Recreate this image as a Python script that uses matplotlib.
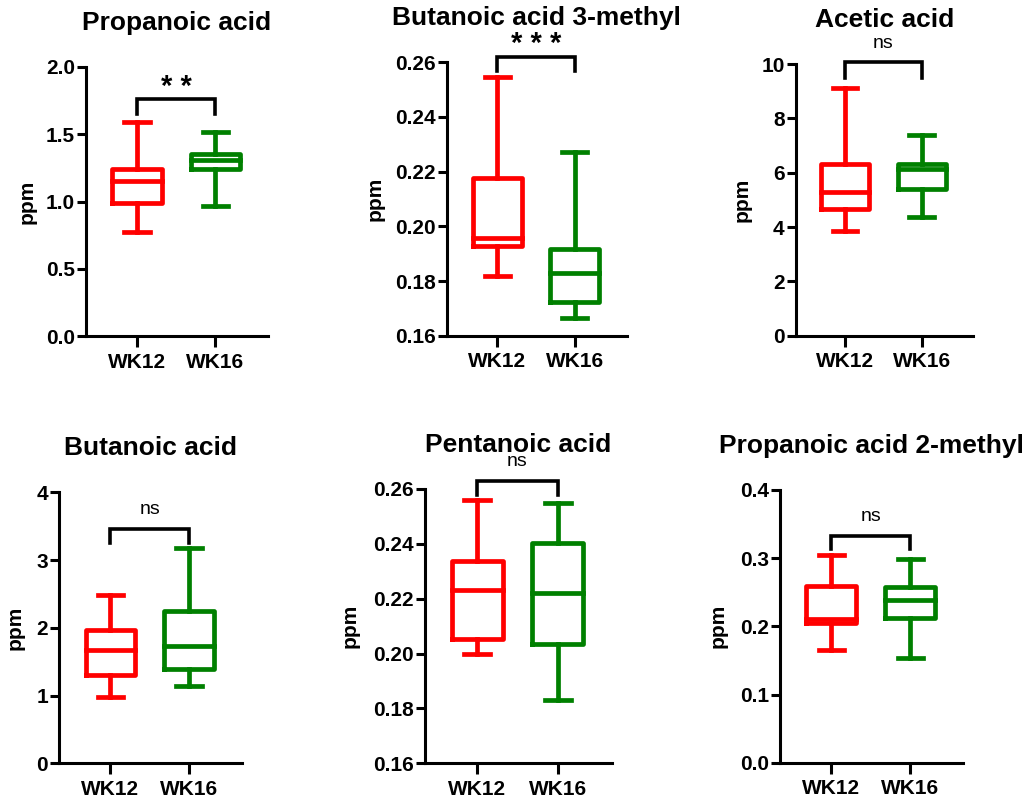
import matplotlib
matplotlib.use('Agg')
import matplotlib.pyplot as plt

plt.rcParams['font.family'] = ['Liberation Sans', 'DejaVu Sans']

titles = ['Propanoic acid', 'Butanoic acid 3-methyl', 'Acetic acid',
          'Butanoic acid', 'Pentanoic acid', 'Propanoic acid 2-methyl']
groups = ['WK12', 'WK16']
colors = ['#FF0000', '#008000']

# box stats (min, q1, median, q3, max)
wk12_min = [0.77, 0.182, 3.87, 0.98, 0.200, 0.166]
wk12_q1 = [0.99, 0.1928, 4.66, 1.30, 0.2053, 0.2044]
wk12_med = [1.15, 0.1959, 5.28, 1.67, 0.2232, 0.2103]
wk12_q3 = [1.24, 0.2176, 6.31, 1.97, 0.2339, 0.2597]
wk12_max = [1.59, 0.2545, 9.10, 2.49, 0.2560, 0.3046]

wk16_min = [0.97, 0.1663, 4.38, 1.14, 0.1831, 0.1531]
wk16_q1 = [1.245, 0.1724, 5.39, 1.39, 0.2035, 0.2127]
wk16_med = [1.31, 0.1830, 6.12, 1.73, 0.2221, 0.2381]
wk16_q3 = [1.35, 0.1916, 6.31, 2.25, 0.2402, 0.2582]
wk16_max = [1.52, 0.2271, 7.39, 3.18, 0.2548, 0.2988]

sig_labels = ['* *', '* * *', 'ns', 'ns', 'ns', 'ns']
bracket_top = [1.76, 0.262, 10.06, 3.46, 0.263, 0.3325]
bracket_end = [1.65, 0.257, 9.5, 3.25, 0.2578, 0.313]
sig_y = [1.85, 0.2668, 10.76, 3.74, 0.270, 0.361]

yticks = [[0.0, 0.5, 1.0, 1.5, 2.0],
          [0.16, 0.18, 0.20, 0.22, 0.24, 0.26],
          [0, 2, 4, 6, 8, 10],
          [0, 1, 2, 3, 4],
          [0.16, 0.18, 0.20, 0.22, 0.24, 0.26],
          [0.0, 0.1, 0.2, 0.3, 0.4]]
yfmt = ['{:.1f}', '{:.2f}', '{:.0f}', '{:.0f}', '{:.2f}', '{:.1f}']

# axes frames in pixels: left, right, top, bottom
frames = [(86, 268, 67, 336), (446.7, 626.7, 62.3, 335.7), (795.7, 972.7, 64, 335.7),
          (59.3, 241.7, 492.3, 763.3), (425, 611.7, 489, 763.3), (780, 963.3, 490, 762.7)]
ylabel_dist = [59, 72, 54, 44, 75, 62]

W, H = 1029, 801
fig = plt.figure(figsize=(W / 100, H / 100), dpi=100)
lw = 3.4

for i in range(6):
    x0, x1, yt, yb = frames[i]
    ax = fig.add_axes([x0 / W, 1 - yb / H, (x1 - x0) / W, (yb - yt) / H])
    stats = [dict(whislo=wk12_min[i], q1=wk12_q1[i], med=wk12_med[i], q3=wk12_q3[i],
                  whishi=wk12_max[i], fliers=[]),
             dict(whislo=wk16_min[i], q1=wk16_q1[i], med=wk16_med[i], q3=wk16_q3[i],
                  whishi=wk16_max[i], fliers=[])]
    for j in range(2):
        c = colors[j]
        ax.bxp([stats[j]], positions=[j], widths=0.63, capwidths=0.32, showfliers=False,
               boxprops=dict(color=c, lw=lw),
               whiskerprops=dict(color=c, lw=lw),
               capprops=dict(color=c, lw=lw),
               medianprops=dict(color=c, lw=lw, solid_capstyle='projecting'))
    ax.set_xlim(-0.65, 1.67)
    ax.set_ylim(yticks[i][0], yticks[i][-1])
    ax.set_xticks([0, 1], groups)
    ax.set_yticks(yticks[i], [yfmt[i].format(v) for v in yticks[i]])
    for s in ['top', 'right']:
        ax.spines[s].set_visible(False)
    for s in ['left', 'bottom']:
        ax.spines[s].set_linewidth(2.2)
    ax.tick_params(axis='x', length=8, width=2.2, pad=4, labelsize=15)
    ax.tick_params(axis='y', length=6.5, width=2.2, pad=1.5, labelsize=15)
    for lab in ax.get_xticklabels() + ax.get_yticklabels():
        lab.set_fontweight('bold')
    ax.set_ylabel('ppm', fontsize=15, fontweight='bold', va='center')
    ax.yaxis.set_label_coords(-ylabel_dist[i] / (x1 - x0), 0.5)
    ax.annotate(titles[i], xy=(0.5, 1), xycoords='axes fraction', xytext=(0, 44 * 0.72),
                textcoords='offset points', ha='center', va='center',
                fontsize=19, fontweight='bold')
    # significance bracket
    ax.plot([0, 0, 1, 1], [bracket_end[i], bracket_top[i], bracket_top[i], bracket_end[i]],
            color='black', lw=2.6, clip_on=False, solid_joinstyle='miter')
    if '*' in sig_labels[i]:
        ax.text(0.5, sig_y[i], sig_labels[i], ha='center', va='center',
                fontsize=21, fontweight='bold')
    else:
        ax.text(0.5, sig_y[i], sig_labels[i], ha='center', va='center', fontsize=14)
    ax.patch.set_alpha(0)

fig.savefig('out.png', dpi=100)
